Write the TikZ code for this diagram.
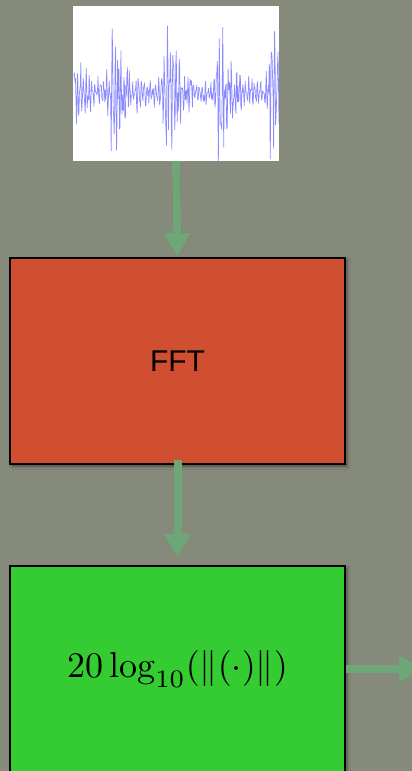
\documentclass[tikz,border=0pt]{standalone}
\usepackage{graphicx}
\usepackage{fontspec}
\newfontfamily\labelfont{Liberation Sans}
\usetikzlibrary{arrows.meta,shadows.blur}

\definecolor{backdrop}{RGB}{134,138,122}
\definecolor{fftred}{RGB}{207,79,48}
\definecolor{dbgreen}{RGB}{52,204,50}
\definecolor{flowgreen}{RGB}{110,166,120}
\definecolor{wavecol}{RGB}{90,90,255}

% one burst of the signal: decays after its onset c, rises sharply before it
\pgfmathdeclarefunction{bump}{3}{%
  \pgfmathparse{#3*exp(max(-15,-max(#1-#2,0)/12-max(#2-#1,0)/2.5))}%
}
% envelope of the whole recording
\pgfmathdeclarefunction{env}{1}{%
  \pgfmathparse{12+bump(#1,74,38)+bump(#1,112,74)+bump(#1,166,84)+bump(#1,219,76)+bump(#1,271,72)}%
}
% oscillation with period #2 (kept small to stay in range)
\pgfmathdeclarefunction{osc}{2}{%
  \pgfmathparse{sin(mod(#1,#2)*360/#2)}%
}

\tikzset{
  block/.style={draw=black, line width=2pt, minimum width=335pt, minimum height=206pt,
    inner sep=0pt, blur shadow={shadow xshift=2pt, shadow yshift=-2pt,
    shadow blur radius=3pt, shadow opacity=45}},
  flow/.style={draw=flowgreen, line width=8pt,
    -{Triangle[width=26pt,length=24pt]}},
  flowshadow/.style={draw=black, opacity=.22, line width=8pt, xshift=2pt, yshift=-2pt,
    -{Triangle[width=26pt,length=24pt]}},
}

\begin{document}
\begin{tikzpicture}[x=1pt,y=-1pt]
  \useasboundingbox (0,0) rectangle (412,771);
  \fill[backdrop] (0,0) rectangle (412,771);

  % input signal
  \node[fill=white, minimum width=206pt, minimum height=155pt, inner sep=0pt] (wave) at (176,83.5) {};
  \begin{scope}
    \clip (wave.south west) rectangle (wave.north east);
    \pgfmathsetseed{11}
    \draw[wavecol, line width=0.7pt, opacity=.7, line join=round]
      plot[samples=420, domain=74:279]
      (\x, {93 + env(\x)*(0.45*osc(\x,2.9)+0.3*osc(\x,1.73)+0.35*rand)});
  \end{scope}

  % processing blocks
  \node[block, fill=fftred] (fft) at (177.5,361) {\labelfont\fontsize{30}{34}\selectfont FFT};
  \node[block, fill=dbgreen] (db) at (177.5,669)
    {\scalebox{3.6}{$20\log_{10}(\|(\cdot)\|)$}};
  \coordinate (out) at (423,669);

  % connectors
  \draw[flowshadow] (wave.south) -- (fft.north);
  \draw[flow] (wave.south) -- (fft.north);
  \draw[flowshadow, shorten <=-5pt, shorten >=7pt] (fft.south) -- (db.north);
  \draw[flow, shorten <=-5pt, shorten >=7pt] (fft.south) -- (db.north);
  \draw[flowshadow] (db.east) -- (out);
  \draw[flow] (db.east) -- (out);
\end{tikzpicture}
\end{document}
